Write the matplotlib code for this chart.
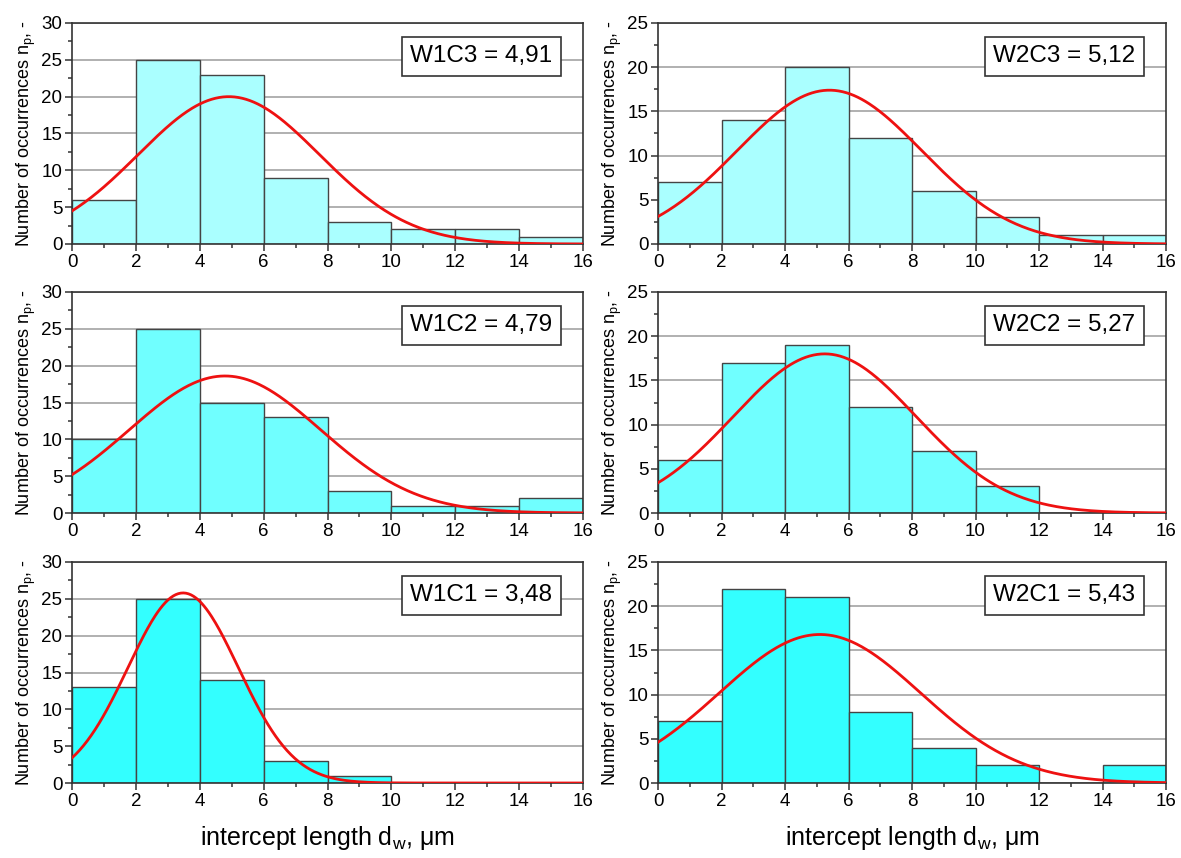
import numpy as np
import matplotlib
matplotlib.use("Agg")
import matplotlib.pyplot as plt
from matplotlib.ticker import MultipleLocator

plt.rcParams['font.family'] = ['Liberation Sans', 'DejaVu Sans']

# --- Data ---
bin_edges = [0, 2, 4, 6, 8, 10, 12, 14, 16]

labels = ["W1C3 = 4,91", "W2C3 = 5,12",
          "W1C2 = 4,79", "W2C2 = 5,27",
          "W1C1 = 3,48", "W2C1 = 5,43"]

counts_w1c3 = [6, 25, 23, 9, 3, 2, 2, 1]
counts_w2c3 = [7, 14, 20, 12, 6, 3, 1, 1]
counts_w1c2 = [10, 25, 15, 13, 3, 1, 1, 2]
counts_w2c2 = [6, 17, 19, 12, 7, 3, 0, 0]
counts_w1c1 = [13, 25, 14, 3, 1, 0, 0, 0]
counts_w2c1 = [7, 22, 21, 8, 4, 2, 0, 2]

# fitted normal curves: amplitude, centre, sigma
fit_amp = [20.0, 17.4, 18.6, 18.0, 25.8, 16.8]
fit_mu = [4.91, 5.40, 4.79, 5.25, 3.48, 5.10]
fit_sigma = [2.84, 2.91, 3.00, 2.88, 1.73, 3.17]

ymax = [30, 25, 30, 25, 30, 25]

all_counts = [counts_w1c3, counts_w2c3, counts_w1c2,
              counts_w2c2, counts_w1c1, counts_w2c1]
row_colors = ["#aaffff", "#70ffff", "#33ffff"]

# --- Layout (figure fractions) ---
W, H = 1181, 858
lefts = [72 / W, 658 / W]
widths = [511 / W, 508 / W]
bottoms = [1 - 244 / H, 1 - 513 / H, 1 - 783 / H]
height = 221 / H

fig = plt.figure(figsize=(W / 100, H / 100), dpi=100)

for i, counts in enumerate(all_counts):
    row, col = divmod(i, 2)
    ax = fig.add_axes([lefts[col], bottoms[row], widths[col], height])

    ax.bar(bin_edges[:-1], counts, width=2, align='edge',
           color=row_colors[row], edgecolor='#444444', linewidth=1.0, zorder=2)

    xs = np.linspace(0, 16, 400)
    ys = fit_amp[i] * np.exp(-(xs - fit_mu[i]) ** 2 / (2 * fit_sigma[i] ** 2))
    ax.plot(xs, ys, color='#ee1111', lw=2.0, zorder=3)

    ax.set_xlim(0, 16)
    ax.set_ylim(0, ymax[i])
    ax.xaxis.set_major_locator(MultipleLocator(2))
    ax.xaxis.set_minor_locator(MultipleLocator(1))
    ax.yaxis.set_major_locator(MultipleLocator(5))
    ax.yaxis.set_minor_locator(MultipleLocator(2.5))
    ax.tick_params(which='both', direction='out', labelsize=13.5,
                   color='#333333', width=1.1)
    ax.tick_params(which='major', length=5, pad=2)
    ax.tick_params(which='minor', length=3)
    ax.grid(axis='y', which='major', color='#b0b0b0', lw=1.4, zorder=0)
    ax.set_axisbelow(True)
    for sp in ax.spines.values():
        sp.set_color('#333333')
        sp.set_linewidth(1.2)

    ax.set_ylabel("Number of occurrences n$_\\mathregular{p}$, -", fontsize=13, labelpad=2)

    ax.text(0.94, 0.85, labels[i], transform=ax.transAxes, ha='right', va='center',
            fontsize=17.5, zorder=5,
            bbox=dict(boxstyle='square,pad=0.35', facecolor='white',
                      edgecolor='#333333', linewidth=1.2))

    if row == 2:
        ax.set_xlabel("intercept length d$_\\mathregular{w}$, \u03bcm", fontsize=18, labelpad=10)

fig.savefig("out.png", dpi=100)
